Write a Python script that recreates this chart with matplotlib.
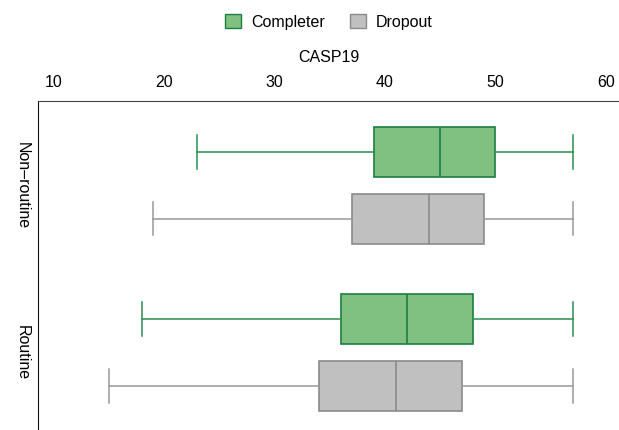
import matplotlib
matplotlib.use("Agg")
import matplotlib.pyplot as plt
from matplotlib.patches import Patch

plt.rcParams['font.family'] = ['Liberation Sans', 'DejaVu Sans']

# CASP19 summary per routine type and group
categories = ["Non\u2013routine", "Routine"]
groups = ["Completer", "Dropout"]
whislo = {"Completer": [23, 18], "Dropout": [19, 15]}
q1 = {"Completer": [39, 36], "Dropout": [37, 34]}
med = {"Completer": [45, 42], "Dropout": [44, 41]}
q3 = {"Completer": [50, 48], "Dropout": [49, 47]}
whishi = {"Completer": [57, 57], "Dropout": [57, 57]}
xticks = [10, 20, 30, 40, 50, 60]

fill = {"Completer": "#80c080", "Dropout": "#c0c0c0"}
edge = {"Completer": "#1a8040", "Dropout": "#8a8a8a"}
whisk = {"Completer": "#2a9050", "Dropout": "#999999"}

fig = plt.figure(figsize=(6.19, 4.30), dpi=100)
ax = fig.add_axes([38 / 619, 0, 581 / 619, 329 / 430])

group_pos = [0.0, 2.5]
for ci, cat in enumerate(categories):
    for gi, g in enumerate(groups):
        st = [dict(whislo=whislo[g][ci], q1=q1[g][ci], med=med[g][ci],
                   q3=q3[g][ci], whishi=whishi[g][ci], fliers=[])]
        ax.bxp(st, positions=[group_pos[ci] + gi], vert=False, widths=0.75,
               capwidths=0.5, patch_artist=True, showfliers=False,
               boxprops=dict(facecolor=fill[g], edgecolor=edge[g], linewidth=1.2),
               medianprops=dict(color=edge[g], linewidth=1.2),
               whiskerprops=dict(color=whisk[g], linewidth=1.1),
               capprops=dict(color=whisk[g], linewidth=1.1))

ax.set_ylim(4.16, -0.76)
ax.set_xlim(8.6, 61.18)
ax.set_yticks([p + 0.5 for p in group_pos])
ax.set_yticklabels(categories, rotation=-90, va="center", fontsize=11.5)
ax.set_xticks(xticks)
ax.xaxis.tick_top()
ax.xaxis.set_label_position("top")
ax.set_xlabel("CASP19", fontsize=11.5, labelpad=9)
ax.tick_params(axis="x", length=0, pad=8, labelsize=11.5)
ax.tick_params(axis="y", length=0, pad=6)
for s in ["right", "bottom"]:
    ax.spines[s].set_visible(False)
ax.spines["top"].set_color("#444444")
ax.spines["left"].set_color("#111111")

handles = [Patch(facecolor=fill[g], edgecolor=edge[g], label=g) for g in groups]
fig.legend(handles=handles, loc="center", bbox_to_anchor=(329 / 619, 0.949), ncol=2,
           frameon=False, fontsize=11.5, handlelength=1.0, handleheight=1.0,
           columnspacing=1.6, handletextpad=0.6)

fig.savefig("out.png", dpi=100)
